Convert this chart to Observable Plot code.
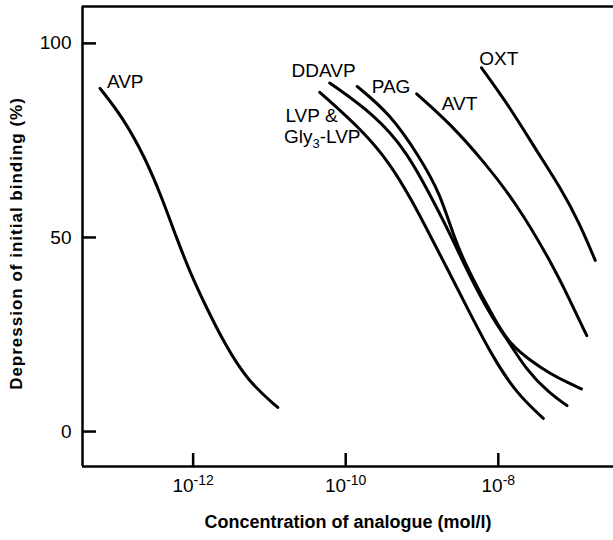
<!DOCTYPE html>
<html><head><meta charset="utf-8">
<script src="https://cdn.jsdelivr.net/npm/d3@7"></script>
<script src="https://cdn.jsdelivr.net/npm/@observablehq/plot@0.6"></script>
<style>body{margin:0;background:#fff;}</style>
</head><body><div id="chart"></div>
<script>
// ---- axes ----
const xTickExponents = [-12, -10, -8];
const yTicks = [0, 50, 100];
const xDomainExp = [-13.45, -6.49];
const yDomain = [-9, 109.5];

// ---- curves: log10 concentration (mol/l) and % depression of initial binding ----
const avpLogC = [-13.22, -12.92, -12.63, -12.41, -12.22, -12.04, -11.84, -11.59, -11.29, -10.89];
const avpPct  = [88.4, 80.9, 70.6, 60.3, 50.0, 41.0, 32.5, 22.7, 13.1, 6.2];

const lvpLogC = [-10.34, -9.78, -9.42, -9.13, -8.88, -8.63, -8.37, -8.07, -7.76, -7.41];
const lvpPct  = [87.4, 77.6, 69.1, 59.5, 50.0, 40.5, 30.4, 19.1, 9.8, 3.4];

const ddavpLogC = [-10.21, -9.64, -9.20, -8.81, -8.59, -8.37, -8.06, -7.93, -7.63, -7.32, -7.10];
const ddavpPct  = [89.8, 81.9, 72.4, 57.8, 49.2, 39.8, 28.6, 25.2, 15.7, 9.7, 6.7];

const pagLogC = [-9.85, -9.42, -9.03, -8.76, -8.57, -8.35, -8.04, -7.85, -7.58, -7.32, -7.06, -6.91];
const pagPct  = [88.9, 81.9, 70.7, 61.3, 49.2, 39.8, 28.6, 22.6, 18.3, 14.9, 12.3, 11.0];

const avtLogC = [-9.07, -8.63, -8.20, -7.76, -7.32, -7.06, -6.84];
const avtPct  = [87.0, 79.3, 69.8, 58.7, 44.1, 33.8, 24.7];

const oxtLogC = [-8.22, -7.85, -7.50, -7.19, -6.93, -6.73];
const oxtPct  = [93.7, 83.6, 72.4, 63.0, 53.5, 44.1];

// ---- curve labels ----
const labelText = ["AVP", "DDAVP", "PAG", "LVP &", "Gly3-LVP", "AVT", "OXT"];
const labelLogC = [-13.13, -10.71, -9.66, -10.79, -10.81, -8.74, -8.25];
const labelPct  = [90.2, 93.0, 88.8, 81.3, 75.8, 84.3, 96.1];

const xTitle = "Concentration of analogue (mol/l)";
const yTitle = "Depression of initial binding (%)";

// ---- build tables ----
const seriesDefs = [
  ["AVP", avpLogC, avpPct], ["LVP", lvpLogC, lvpPct], ["DDAVP", ddavpLogC, ddavpPct],
  ["PAG", pagLogC, pagPct], ["AVT", avtLogC, avtPct], ["OXT", oxtLogC, oxtPct]
];
const rows = seriesDefs.flatMap(([s, lc, p]) => lc.map((v, i) => ({series: s, c: 10 ** v, pct: p[i]})));
const labels = labelText.map((t, i) => ({text: t, c: 10 ** labelLogC[i], pct: labelPct[i]}));
const xTicks = xTickExponents.map(e => 10 ** e);
const xDomain = xDomainExp.map(e => 10 ** e);

const plot = Plot.plot({
  width: 613, height: 540,
  marginLeft: 82, marginRight: 0, marginTop: 6, marginBottom: 74,
  style: {fontFamily: "'Liberation Sans', Arial, sans-serif", background: "#fff", color: "#000"},
  x: {type: "log", domain: xDomain},
  y: {domain: yDomain},
  marks: [
    // frame lines (left, top, bottom)
    Plot.ruleX([xDomain[0]], {stroke: "#000", strokeWidth: 2.5}),
    Plot.ruleY([yDomain[0], yDomain[1]], {stroke: "#000", strokeWidth: 2.5}),
    // inward ticks
    Plot.ruleX(xTicks, {y1: yDomain[0], y2: yDomain[0], insetBottom: 13, stroke: "#000", strokeWidth: 2.5}),
    Plot.ruleY(yTicks, {x1: xDomain[0], x2: xDomain[0], insetRight: -14, stroke: "#000", strokeWidth: 2.5}),
    Plot.axisX({ticks: xTicks, tickSize: 0, tickPadding: 12, fontSize: 19, label: null,
      tickFormat: d => `10^${Math.round(Math.log10(d))}`}),
    Plot.axisY({ticks: yTicks, tickSize: 0, tickPadding: 11, fontSize: 19, label: null}),
    Plot.text([xTitle], {frameAnchor: "bottom", dy: 61, fontSize: 18, fontWeight: "bold"}),
    Plot.text([yTitle], {frameAnchor: "left", dx: -66, dy: 7, rotate: -90, textAnchor: "middle",
      fontSize: 17, fontWeight: "bold"}),
    Plot.line(rows, {x: "c", y: "pct", z: "series", stroke: "#000", strokeWidth: 3,
      curve: "basis", strokeLinecap: "round"}),
    Plot.text(labels, {x: "c", y: "pct", text: "text", textAnchor: "start", fontSize: 19, fill: "#000"})
  ]
});
document.getElementById("chart").appendChild(plot);

// superscripts / subscripts as real text
const svgns = "http://www.w3.org/2000/svg";
plot.querySelectorAll("text").forEach(t => {
  const s = t.textContent;
  let m = s.match(/^10\^(-?\d+)$/);
  if (m) {
    t.textContent = "";
    const a = document.createElementNS(svgns, "tspan"); a.textContent = "10";
    const b = document.createElementNS(svgns, "tspan"); b.textContent = m[1].replace("−", "-");
    b.setAttribute("dy", "-7"); b.setAttribute("font-size", "14");
    t.appendChild(a); t.appendChild(b);
  } else if (s === "Gly3-LVP") {
    t.textContent = "";
    const a = document.createElementNS(svgns, "tspan"); a.textContent = "Gly";
    const b = document.createElementNS(svgns, "tspan"); b.textContent = "3";
    b.setAttribute("dy", "5"); b.setAttribute("font-size", "13");
    const c = document.createElementNS(svgns, "tspan"); c.textContent = "-LVP";
    c.setAttribute("dy", "-5");
    t.appendChild(a); t.appendChild(b); t.appendChild(c);
  } else if (s === yTitle) {
    t.setAttribute("letter-spacing", "1");
  }
});
</script>
</body></html>
